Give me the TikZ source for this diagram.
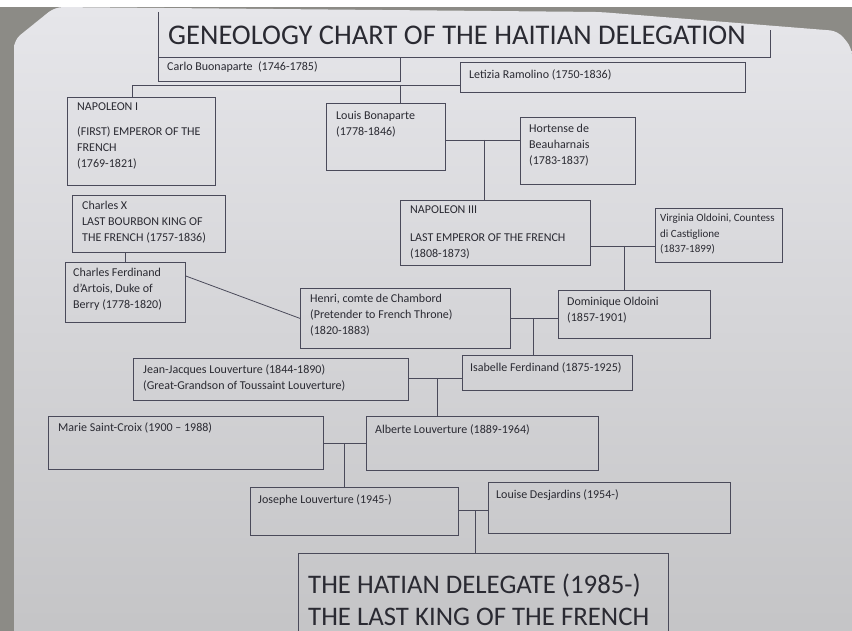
\documentclass[tikz,border=0pt]{standalone}
\usepackage{fontspec}
\setmainfont{Carlito}
\usetikzlibrary{calc}
\definecolor{ink}{HTML}{2A2A32}
\definecolor{rule}{HTML}{4A4A5A}
\definecolor{paperhi}{HTML}{E6E6EA}
\definecolor{paperlo}{HTML}{C4C4C6}
\definecolor{desk}{HTML}{8C8B86}
\begin{document}
\begin{tikzpicture}[x=1pt,y=-1pt,
    box/.style 2 args={draw=rule, line width=0.8pt, anchor=north west, minimum width=#1pt, minimum height=#2pt, inner sep=0pt},
    txt/.style={anchor=north west, align=left, inner sep=0pt, text=ink, font=\fontsize{12}{16}\selectfont},
    link/.style={draw=rule, line width=0.8pt}]
\useasboundingbox (0,0) rectangle (852,631);
\clip (0,0) rectangle (852,631);
\fill[white] (0,0) rectangle (852,631);
\fill[desk] (0,7) rectangle (852,631);
\shade[top color=paperhi, bottom color=paperlo, rounded corners=8pt] (55,7) -- (600,12) -- (838,31) -- (852,48) -- (852,640) -- (14,640) -- (14,40) -- cycle;

\node[box={612}{45}, draw=none] (titlebox) at (158,12) {};
\draw[link] (titlebox.north west) -- (titlebox.south west) -- (titlebox.south east) -- ++(0,-28);
\node[anchor=west, inner sep=0pt, text=ink, font=\fontsize{28.5}{30}\selectfont] (title) at ([xshift=10pt]titlebox.west) {GENEOLOGY CHART OF THE HAITIAN DELEGATION};

\node[box={242}{24}] (carlo) at (158,57) {};
\node[txt] (carlo-t) at ([shift={(9,5)}]carlo.north west) {Carlo Buonaparte\ \ (1746-1785)};
\node[box={285}{30}] (letizia) at (460,62) {};
\node[txt] (letizia-t) at ([shift={(9,8)}]letizia.north west) {Letizia Ramolino (1750-1836)};

\node[box={148}{88}] (nap1) at (67,97) {};
\node[txt] (nap1-t) at ([shift={(10,6)}]nap1.north west) {NAPOLEON I\\[9pt](FIRST) EMPEROR OF THE\\FRENCH\\(1769-1821)};
\node[box={119}{67}] (louis) at (326,103) {};
\node[txt] (louis-t) at ([shift={(10,8)}]louis.north west) {Louis Bonaparte\\(1778-1846)};
\node[box={115}{67}] (hort) at (520,117) {};
\node[txt] (hort-t) at ([shift={(9,7)}]hort.north west) {Hortense de\\Beauharnais\\(1783-1837)};

\node[box={153}{57}] (cx) at (72,195) {};
\node[txt] (cx-t) at ([shift={(10,6)}]cx.north west) {Charles X\\LAST BOURBON KING OF\\THE FRENCH (1757-1836)};
\node[box={190}{65}] (nap3) at (400,200) {};
\node[txt] (nap3-t) at ([shift={(10,6)}]nap3.north west) {NAPOLEON III\\[12pt]LAST EMPEROR OF THE FRENCH\\(1808-1873)};
\node[box={127}{54}] (virg) at (655,208) {};
\node[txt, font=\fontsize{11}{15.5}\selectfont] (virg-t) at ([shift={(5,6)}]virg.north west) {Virginia Oldoini, Countess\\di Castiglione\\(1837-1899)};

\node[box={120}{60}] (cf) at (65,262) {};
\node[txt] (cf-t) at ([shift={(8,6)}]cf.north west) {Charles Ferdinand\\d'Artois, Duke of\\Berry (1778-1820)};
\node[box={210}{60}] (henri) at (300,288) {};
\node[txt] (henri-t) at ([shift={(10,6)}]henri.north west) {Henri, comte de Chambord\\(Pretender to French Throne)\\(1820-1883)};
\node[box={152}{48}] (dom) at (558,290) {};
\node[txt] (dom-t) at ([shift={(9,7)}]dom.north west) {Dominique Oldoini\\(1857-1901)};

\node[box={275}{42}] (jj) at (133,358) {};
\node[txt] (jj-t) at ([shift={(10,7)}]jj.north west) {Jean-Jacques Louverture (1844-1890)\\(Great-Grandson of Toussaint Louverture)};
\node[box={170}{35}] (isab) at (462,355) {};
\node[txt] (isab-t) at ([shift={(8,8)}]isab.north west) {Isabelle Ferdinand (1875-1925)};

\node[box={275}{53}] (marie) at (48,416) {};
\node[txt] (marie-t) at ([shift={(10,7)}]marie.north west) {Marie Saint-Croix (1900 -- 1988)};
\node[box={232}{54}] (alb) at (366,416) {};
\node[txt] (alb-t) at ([shift={(9,9)}]alb.north west) {Alberte Louverture (1889-1964)};

\node[box={208}{48}] (jos) at (250,487) {};
\node[txt] (jos-t) at ([shift={(8,8)}]jos.north west) {Josephe Louverture (1945-)};
\node[box={242}{51}] (louise) at (488,482) {};
\node[txt] (louise-t) at ([shift={(8,8)}]louise.north west) {Louise Desjardins (1954-)};

\node[box={370}{100}] (deleg) at (298,553) {};
\node[txt, font=\fontsize{26.8}{32}\selectfont] (deleg-t) at ([shift={(10,21)}]deleg.north west) {THE HATIAN DELEGATE (1985-)\\THE LAST KING OF THE FRENCH};

\coordinate (par) at (400,85);
\coordinate (m1) at (484,140);
\coordinate (m2) at (624,246);
\coordinate (m3) at (533,318);
\coordinate (m4) at (437,378);
\coordinate (m5) at (344,443);
\coordinate (m6) at (475,510);

\draw[link] (letizia.west |- par) -| ([xshift=-9pt]nap1.north);
\draw[link] (par) -- (louis.north -| par);
\draw[link] (louis.east |- m1) -- (hort.west |- m1);
\draw[link] (m1) -- (nap3.north -| m1);
\draw[link] (nap3.east |- m2) -- (virg.west |- m2);
\draw[link] (m2) -- (dom.north -| m2);
\draw[link] (cf.north) -- (cf.north |- cx.south);
\draw[link] ([yshift=-14pt]cf.north east) -- (henri.west);
\draw[link] (henri.east |- m3) -- (dom.west |- m3);
\draw[link] (m3) -- (isab.north -| m3);
\draw[link] (jj.east |- m4) -- (isab.west |- m4);
\draw[link] (m4) -- (alb.north -| m4);
\draw[link] (marie.east |- m5) -- (alb.west |- m5);
\draw[link] (m5) -- (jos.north -| m5);
\draw[link] (jos.east |- m6) -- (louise.west |- m6);
\draw[link] (m6) -- (deleg.north -| m6);
\end{tikzpicture}
\end{document}
